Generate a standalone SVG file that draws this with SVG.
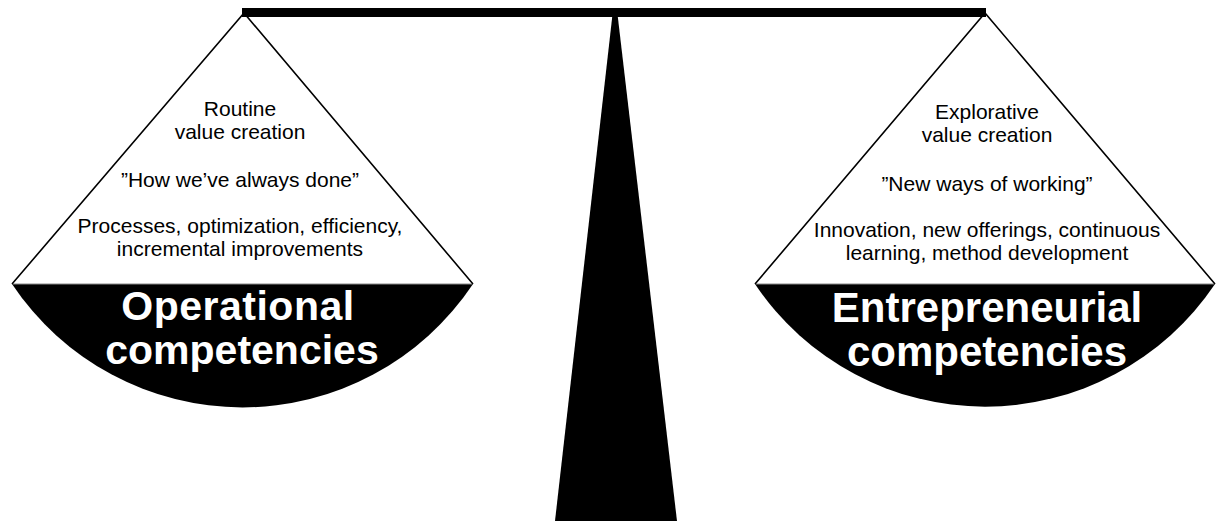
<svg xmlns="http://www.w3.org/2000/svg" width="1216" height="521" viewBox="0 0 1216 521">
<style>
.line{fill:none;stroke:#000;stroke-width:1.6}
.base{stroke:#888;stroke-width:1}
.bowl{fill:#000}
.small{font-family:"Liberation Sans",Arial,sans-serif;font-size:21px;fill:#000;text-anchor:middle}
.big{font-family:"Liberation Sans",Arial,sans-serif;font-size:41px;font-weight:bold;fill:#fff;text-anchor:middle}
</style>
<rect width="1216" height="521" fill="#fff"/>
<g id="stand">
<polygon points="613,10 617,10 677,521 555,521" fill="#000"/>
<rect x="242" y="8" width="744" height="9" fill="#000"/>
</g>
<g id="left-pan">
<path class="bowl" d="M12,284 L473,284 A277,277 0 0 1 12,284 Z"/>
<line class="base" x1="12" y1="284" x2="473" y2="284"/>
<polyline class="line" points="12,284 244,13 473,284"/>
<text class="small" x="240" y="116">Routine</text>
<text class="small" x="240" y="139">value creation</text>
<text class="small" x="240" y="187">”How we’ve always done”</text>
<text class="small" x="240" y="233">Processes, optimization, efficiency,</text>
<text class="small" x="240" y="256">incremental improvements</text>
<text class="big" x="238" y="320" style="letter-spacing:0.5px">Operational</text>
<text class="big" x="242" y="364">competencies</text>
</g>
<g id="right-pan">
<path class="bowl" d="M755,284 L1215,284 A277,277 0 0 1 755,284 Z"/>
<line class="base" x1="755" y1="284" x2="1215" y2="284"/>
<polyline class="line" points="755,284 985,13 1215,284"/>
<text class="small" x="987" y="119">Explorative</text>
<text class="small" x="987" y="142">value creation</text>
<text class="small" x="987" y="191">”New ways of working”</text>
<text class="small" x="987" y="237">Innovation, new offerings, continuous</text>
<text class="small" x="987" y="260">learning, method development</text>
<text class="big" x="987" y="322" style="font-size:42px">Entrepreneurial</text>
<text class="big" x="987" y="366" style="font-size:42px">competencies</text>
</g>
<g id="connectors"/>
</svg>
